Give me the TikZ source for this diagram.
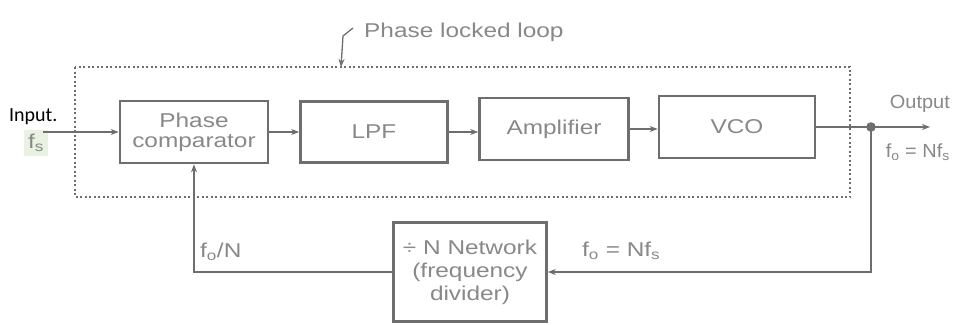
\documentclass[tikz,border=0pt]{standalone}
\usepackage{fontspec}
\setmainfont{Liberation Sans}[FakeStretch=1.22]
\newfontfamily\narrowfont{Liberation Sans}[FakeStretch=1.05]
\newfontfamily\inputfont{Carlito}
\usetikzlibrary{arrows.meta}
\definecolor{ln}{HTML}{6E6E6E}
\definecolor{tx}{HTML}{888888}
\definecolor{hl}{HTML}{E9F1E3}
\tikzset{
  blk/.style={draw=ln, line width=2.6pt, minimum width=#1, text=tx, align=center,
              font=\fontsize{20}{23}\selectfont, inner sep=0pt},
  wire/.style={draw=ln, line width=1.6pt},
  arr/.style={wire, -{Stealth[length=8pt,width=6pt]}},
  lbl/.style={text=tx, font=\fontsize{20}{23}\selectfont, inner sep=0pt},
  rlbl/.style={text=tx, font=\narrowfont\fontsize{19}{22}\selectfont, inner sep=0pt},
}
\begin{document}
\begin{tikzpicture}[x=1pt,y=-1pt]
\useasboundingbox (0,0) rectangle (953,324);
% input frequency label (highlighted, drawn below the input wire)
\node[lbl, fill=hl, anchor=north west, inner xsep=4pt, inner ysep=4pt] (fs) at (24,130) {\raisebox{-4pt}{f\textsubscript{s}}};
% dotted PLL frame
\draw[ln, line width=1.6pt, dash pattern=on 2pt off 2.5pt] (75,67) rectangle (850,197);
% blocks
\node[blk=148pt, minimum height=62pt] (comp) at (194,132) {Phase\\[-3pt]comparator};
\node[blk=147pt, minimum height=61pt] (lpf) at (374,132) {LPF};
\node[blk=149pt, minimum height=62pt] (amp) at (554,129) {Amplifier};
\node[blk=156pt, minimum height=62pt] (vco) at (737,127) {VCO};
\node[blk=153pt, minimum height=99pt] (div) at (470,272) {÷ N Network\\(frequency\\divider)};
% coordinates
\coordinate (in) at (43,132);
\coordinate (j) at (871,127);
\coordinate (out) at (930,127);
% forward path
\draw[arr] (in) -- (comp.west);
\draw[arr] (comp.east) -- (comp.east -| lpf.west);
\draw[arr] (lpf.east) -- (lpf.east -| amp.west);
\draw[arr] (amp.east) -- (amp.east -| vco.west);
\draw[wire] (vco.east) -- (j);
\draw[arr] (j) -- (out);
\fill[ln] (j) circle (4.8pt);
% feedback
\draw[arr] (j) |- (div.east);
\draw[arr] (div.west) -| (comp.south);
% leader
\coordinate (ll) at (353,28);
\draw[arr, line width=1.3pt] (ll) -- (343,36) -- (341,67);
% labels
\node[lbl, anchor=west] (pll) at (ll) [xshift=11pt,yshift=-4pt] {Phase locked loop};
\node[anchor=west, inner sep=0pt, font=\inputfont\fontsize{20}{23}\selectfont] (inp) at (9,117) {Input.};
\node[rlbl, anchor=east] (outl) at (950,104) {Output};
\node[rlbl, anchor=east] (fo1) at (950,152) {f\textsubscript{o} = Nf\textsubscript{s}};
\node[lbl, anchor=west] (fo2) at (200,252) {f\textsubscript{o}/N};
\node[lbl, anchor=west] (fo3) at (582,251) {f\textsubscript{o} = Nf\textsubscript{s}};
\end{tikzpicture}
\end{document}
